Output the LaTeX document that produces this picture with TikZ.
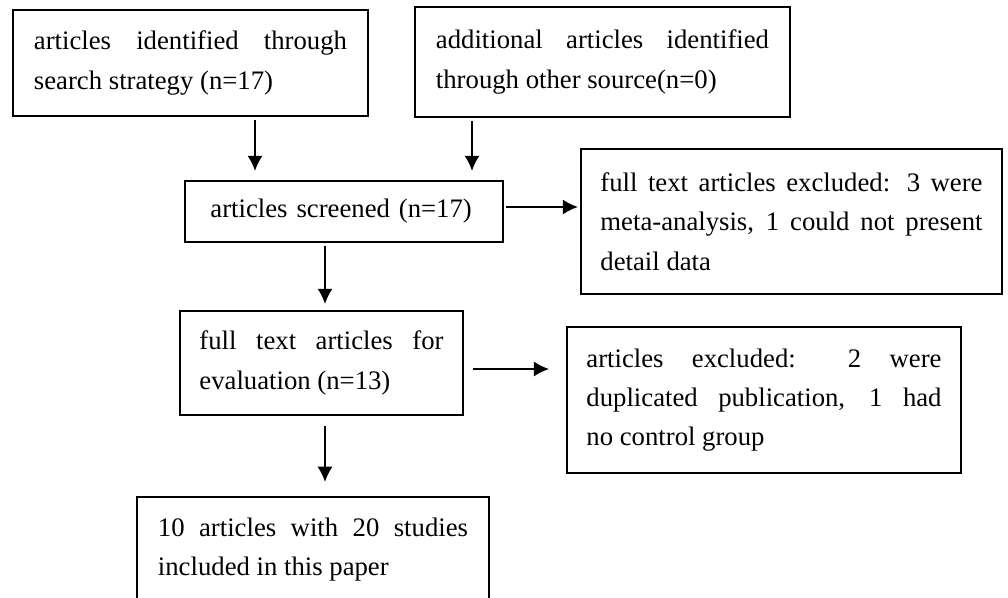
\documentclass[tikz,border=0pt]{standalone}
\usepackage{fontspec}
\setmainfont{Liberation Serif}
\usetikzlibrary{arrows.meta}
\hyphenpenalty=10000
\tolerance=10000
\hbadness=10000

\begin{document}
\begin{tikzpicture}[x=0.025cm, y=-0.025cm, >={Latex[length=3.8mm,width=3.8mm]},
            box/.style={draw, line width=1.4pt, align=justify, inner sep=0pt,
                font=\fontsize{19}{28}\selectfont},
            arr/.style={->, line width=1.4pt}]
            \useasboundingbox (0,0) rectangle (1008,598);
            \node[box, minimum width=8.875cm, minimum height=2.65cm, text width=7.825cm] (srch) at (190.5,63)
                {articles identified through\linebreak search strategy (n=17)};
            \node[box, minimum width=9.375cm, minimum height=2.75cm, text width=8.325cm] (other) at (602.5,62)
                {additional articles identified\linebreak through other source(n=0)};
            \node[box, minimum width=7.95cm, minimum height=1.525cm, text width=6.675cm, align=left] (scr) at (344,211.5)
                {articles screened (n=17)};
            \node[box, minimum width=10.525cm, minimum height=3.625cm, text width=9.55cm] (excl1) at (791.5,221.5)
                {full text articles excluded: 3 were\linebreak meta-analysis, 1 could not present\linebreak detail data};
            \node[box, minimum width=7.075cm, minimum height=2.6cm, text width=6.1cm] (full) at (321.5,363)
                {full text articles for\linebreak evaluation (n=13)};
            \node[box, minimum width=9.85cm, minimum height=3.65cm, text width=8.875cm] (excl2) at (764,400)
                {articles excluded: 2 were\linebreak duplicated publication, 1 had\linebreak no control group};
            \node[box, minimum width=8.8cm, minimum height=2.625cm, text width=7.75cm] (incl) at (313,549.5)
                {10 articles with 20 studies\linebreak included in this paper};
            \coordinate (colA) at (255,0);
            \coordinate (colB) at (472,0);
            \coordinate (colC) at (325,0);
            \coordinate (rowC) at (0,207);
            \coordinate (rowE) at (0,369);
            \draw[arr, shorten <=2pt, shorten >=6.4pt] (srch.south -| colA) -- (scr.north -| colA);
            \draw[arr, shorten <=2pt, shorten >=6.4pt] (other.south -| colB) -- (scr.north -| colB);
            \draw[arr, shorten <=1.4pt, shorten >=1.4pt] (scr.east |- rowC) -- (excl1.west |- rowC);
            \draw[arr, shorten <=2pt, shorten >=4.3pt] (scr.south -| colC) -- (full.north -| colC);
            \draw[arr, shorten <=6.4pt, shorten >=12pt] (full.east |- rowE) -- (excl2.west |- rowE);
            \draw[arr, shorten <=7pt, shorten >=10pt] (full.south -| colC) -- (incl.north -| colC);
        \end{tikzpicture}
\end{document}
